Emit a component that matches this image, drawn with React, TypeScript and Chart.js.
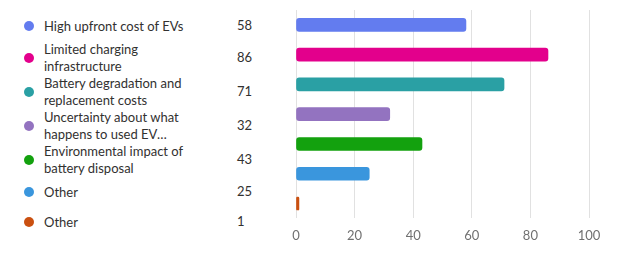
import React, { useEffect, useRef } from "react";
import { Chart, registerables } from "chart.js";

Chart.register(...registerables);

const categories = [
  "High upfront cost of EVs",
  "Limited charging infrastructure",
  "Battery degradation and replacement costs",
  "Uncertainty about what happens to used EV batteries",
  "Environmental impact of battery disposal",
  "Other",
  "Other",
];
const counts = [58, 86, 71, 32, 43, 25, 1];
const colors = ["#637CEF", "#E3008C", "#2AA0A4", "#9373C0", "#13A10E", "#3A96DD", "#CA5010"];
const xTicks = [0, 20, 40, 60, 80, 100];

const FONT = "Lato, 'Noto Sans', sans-serif";

export default function App() {
  const canvasRef = useRef<HTMLCanvasElement | null>(null);

  useEffect(() => {
    const canvas = canvasRef.current;
    if (!canvas) return;
    const chart = new Chart(canvas, {
      type: "bar",
      data: {
        labels: categories,
        datasets: [
          {
            data: counts,
            backgroundColor: colors,
            borderWidth: 0,
            borderRadius: 3,
            borderSkipped: false,
            barThickness: 13,
          },
        ],
      },
      options: {
        indexAxis: "y",
        responsive: false,
        animation: false,
        maintainAspectRatio: false,
        layout: { padding: { left: 26, right: 47, top: 10, bottom: 8 } },
        plugins: { legend: { display: false }, tooltip: { enabled: false } },
        scales: {
          y: { display: false },
          x: {
            min: 0,
            max: 100,
            afterBuildTicks: (axis: any) => {
              axis.ticks = xTicks.map((v) => ({ value: v }));
            },
            border: { display: false },
            grid: { color: "#E1E1E1", lineWidth: 1, drawTicks: false },
            ticks: {
              color: "#707070",
              padding: 10,
              font: { family: FONT, size: 13 },
            },
          },
        },
      },
    });
    return () => chart.destroy();
  }, []);

  return (
    <div
      style={{
        position: "absolute",
        left: 0,
        top: 0,
        width: 636,
        height: 262,
        overflow: "hidden",
        background: "#fff",
        fontFamily: FONT,
        color: "#323130",
      }}
    >
      <div style={{ position: "absolute", left: 0, top: 11, width: 270, display: "flex", flexDirection: "column" }}>
        {categories.map((c, i) => (
          <div key={i} style={{ display: "flex", alignItems: "center", minHeight: 30, position: "relative" }}>
            <span
              style={{
                position: "absolute",
                left: 24,
                top: "50%",
                marginTop: -5,
                width: 10,
                height: 10,
                borderRadius: "50%",
                background: colors[i],
              }}
            />
            <span
              style={{
                marginLeft: 44,
                width: 148,
                fontSize: 13,
                lineHeight: "17px",
                display: "-webkit-box",
                WebkitLineClamp: 2,
                WebkitBoxOrient: "vertical" as any,
                overflow: "hidden",
              }}
            >
              {c}
            </span>
            <span style={{ position: "absolute", left: 237, top: "50%", marginTop: -9, fontSize: 13, lineHeight: "17px" }}>
              {counts[i]}
            </span>
          </div>
        ))}
      </div>
      <canvas
        ref={canvasRef}
        width={366}
        height={262}
        style={{ position: "absolute", left: 270, top: 0, width: 366, height: 262 }}
      />
    </div>
  );
}
